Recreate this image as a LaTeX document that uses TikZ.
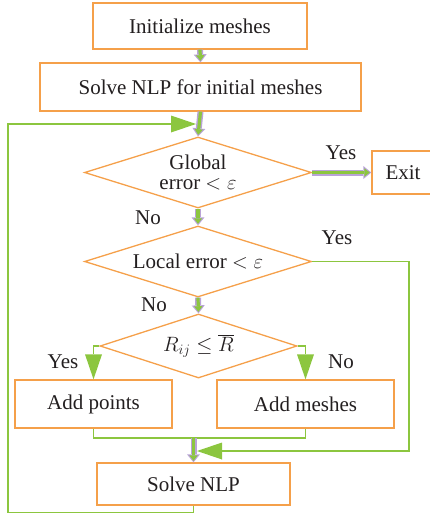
\documentclass[tikz,border=0pt]{standalone}
\usepackage{fontspec}
\setmainfont{Liberation Serif}
\usetikzlibrary{shapes.geometric,arrows.meta}

\definecolor{boxorange}{HTML}{F5A04A}
\definecolor{leafgreen}{HTML}{8CC63F}
\definecolor{lavender}{HTML}{B9A3D8}
\definecolor{textgray}{HTML}{231F20}

\tikzset{
    procbox/.style={draw=boxorange, line width=1.3pt, fill=white, text=textgray, inner sep=0pt},
    decision/.style={diamond, draw=boxorange, line width=1.3pt, text=textgray, inner sep=0pt, align=center},
    label/.style={text=textgray},
    thinline/.style={draw=leafgreen, line width=1.3pt},
    greenarrow/.style={thinline, -{Triangle[length=25pt,width=17pt,line width=0pt]}},
    blockarrow/.style={draw=lavender, line width=6pt, -{Triangle[length=8pt,width=13pt,line width=0pt]},
        postaction={draw=leafgreen, line width=3.2pt, -{Triangle[length=5.5pt,width=8.5pt,line width=0pt]}, shorten >=1.6pt}}
}

\begin{document}
\begin{tikzpicture}[x=1pt, y=-1pt, font=\fontsize{21}{23.5}\selectfont]
    \useasboundingbox (0,0) rectangle (430,515);

    % main column
    \node[procbox, minimum width=214pt, minimum height=46pt] (init) at (200,26) {Initialize meshes};
    \node[procbox, minimum width=321pt, minimum height=48pt] (solvezero) at (200.5,87) {Solve NLP for initial meshes};
    \node[decision, minimum width=227pt, minimum height=71pt, aspect=3.2] (glob) at (198,172.5) {Global\\[-3pt]error $<\varepsilon$};
    \node[procbox, minimum width=62pt, minimum height=43pt] (exit) at (403,172.5) {Exit};
    \node[decision, minimum width=227pt, minimum height=71pt, aspect=3.2] (local) at (198,261.5) {Local error $<\varepsilon$};
    \node[decision, minimum width=197pt, minimum height=64pt, aspect=3.1] (rcheck) at (198.5,346) {$R_{ij}\leq\overline{R}$};
    \node[procbox, minimum width=157pt, minimum height=48pt] (addp) at (93.5,404) {Add points};
    \node[procbox, minimum width=177pt, minimum height=48pt] (addm) at (305.5,404) {Add meshes};
    \node[procbox, minimum width=193pt, minimum height=42pt] (solve) at (193.5,484) {Solve NLP};

    % labels
    \node[label] (yesglob) at (341,153) {Yes};
    \node[label] (noglob) at (148,218) {No};
    \node[label] (yeslocal) at (337,238) {Yes};
    \node[label] (nolocal) at (154,305) {No};
    \node[label] (yesr) at (63,362) {Yes};
    \node[label] (nor) at (341,362) {No};

    \coordinate (merge) at (193.5,438);
    \coordinate (rejoin) at (197,451);
    \coordinate (loopend) at (196,124);

    % green lines
    \draw[greenarrow] (rcheck.west) -| (addp.north);
    \draw[greenarrow] (rcheck.east) -| (addm.north);
    \draw[thinline] (addp.south) |- (merge) -| (addm.south);
    \draw[greenarrow] (local.east) -| (409,451) -- (rejoin);
    \draw[greenarrow] (solve.south) -- ++(0,6.5) -| (8,124) -- (loopend);

    % block arrows
    \draw[blockarrow] (init.south) -- (solvezero.north);
    \draw[blockarrow] (solvezero.south) -- (glob.north);
    \draw[blockarrow] (glob.east) -- (exit.west);
    \draw[blockarrow] (glob.south) -- (local.north);
    \draw[blockarrow] (local.south) -- (rcheck.north);
    \draw[blockarrow] (merge) -- (solve.north);
\end{tikzpicture}
\end{document}
